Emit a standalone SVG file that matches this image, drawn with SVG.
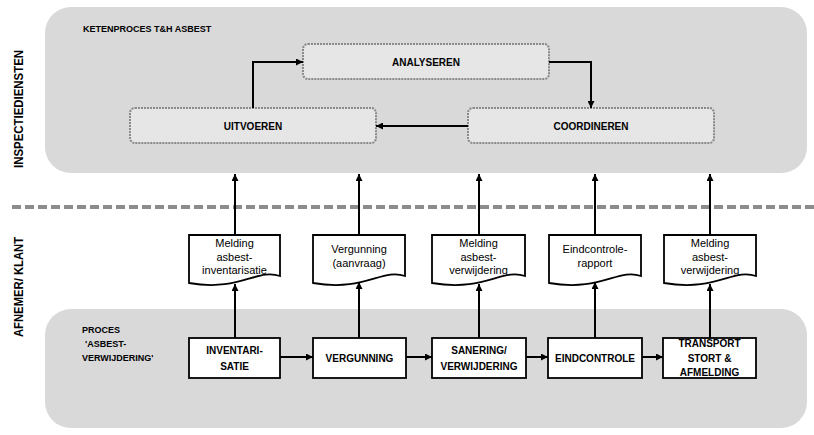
<svg xmlns="http://www.w3.org/2000/svg" width="814" height="435" viewBox="0 0 814 435">
<defs>
<marker id="ah" viewBox="0 0 10 10" refX="10" refY="5" markerWidth="7" markerHeight="7" markerUnits="userSpaceOnUse" orient="auto">
<path d="M0,0 L10,5 L0,10 z" fill="#000"/>
</marker>
<style>
.panel{fill:#d9d9d9;}
.act{fill:#e6e6e6;stroke:#8a8a8a;stroke-width:2;stroke-dasharray:2,1;}
.box{fill:#fff;stroke:#000;stroke-width:1.8;}
.doc{fill:#fff;stroke:#000;stroke-width:1.8;}
.con{fill:none;stroke:#000;stroke-width:2;marker-end:url(#ah);}
.b{font-family:"Liberation Sans",Arial,sans-serif;font-weight:bold;font-size:10px;fill:#000;text-anchor:middle;}
.d{font-family:"Liberation Sans",Arial,sans-serif;font-size:11px;fill:#000;text-anchor:middle;}
.lab{font-family:"Liberation Sans",Arial,sans-serif;font-weight:bold;font-size:9px;fill:#000;}
.v{font-family:"Liberation Sans",Arial,sans-serif;font-weight:bold;font-size:13px;fill:#000;text-anchor:middle;}
</style>
</defs>
<rect width="814" height="435" fill="#fff"/>

<g id="panel-top">
<rect class="panel" x="45" y="7" width="762" height="166" rx="26"/>
<text class="lab" x="83" y="32">KETENPROCES T&amp;H ASBEST</text>
</g>
<g id="panel-bottom">
<rect class="panel" x="45" y="309" width="762" height="119" rx="26"/>
<text class="lab" x="82" y="333">PROCES</text>
<text class="lab" x="85" y="347">'ASBEST-</text>
<text class="lab" x="82" y="361">VERWIJDERING'</text>
</g>

<g id="lane-labels">
<text class="v" transform="translate(23,109) rotate(-90)" textLength="118" lengthAdjust="spacingAndGlyphs">INSPECTIEDIENSTEN</text>
<text class="v" transform="translate(23,287) rotate(-90)" textLength="100" lengthAdjust="spacingAndGlyphs">AFNEMER/ KLANT</text>
</g>

<g id="divider">
<line x1="12" y1="207" x2="814" y2="207" stroke="#8c8c8c" stroke-width="4" stroke-dasharray="9,4"/>
</g>

<g id="analyseren">
<rect class="act" x="303" y="44" width="246" height="35" rx="5"/>
<text class="b" x="426" y="65.5">ANALYSEREN</text>
</g>
<g id="uitvoeren">
<rect class="act" x="130" y="108" width="246" height="35" rx="5"/>
<text class="b" x="253" y="129.5">UITVOEREN</text>
</g>
<g id="coordineren">
<rect class="act" x="468" y="108" width="246" height="35" rx="5"/>
<text class="b" x="591" y="129.5">COORDINEREN</text>
</g>

<g id="doc1">
<path class="doc" d="M189,235 H280 V276 C257,268 240,292 189,283 Z"/>
<text class="d" x="234.5" y="247">Melding</text>
<text class="d" x="234.5" y="260.5">asbest-</text>
<text class="d" x="234.5" y="274">inventarisatie</text>
</g>
<g id="doc2">
<path class="doc" d="M313,235 H405 V276 C382,268 365,292 313,283 Z"/>
<text class="d" x="359" y="253">Vergunning</text>
<text class="d" x="359" y="267">(aanvraag)</text>
</g>
<g id="doc3">
<path class="doc" d="M432,235 H525 V276 C502,268 485,292 432,283 Z"/>
<text class="d" x="478.5" y="247">Melding</text>
<text class="d" x="478.5" y="260.5">asbest-</text>
<text class="d" x="478.5" y="274">verwijdering</text>
</g>
<g id="doc4">
<path class="doc" d="M549,235 H641 V276 C618,268 601,292 549,283 Z"/>
<text class="d" x="595" y="253">Eindcontrole-</text>
<text class="d" x="595" y="267">rapport</text>
</g>
<g id="doc5">
<path class="doc" d="M664,235 H756 V276 C733,268 716,292 664,283 Z"/>
<text class="d" x="710" y="247">Melding</text>
<text class="d" x="710" y="260.5">asbest-</text>
<text class="d" x="710" y="274">verwijdering</text>
</g>

<g id="inventarisatie">
<rect class="box" x="189" y="338" width="91" height="40"/>
<text class="b" x="234.5" y="354">INVENTARI-</text>
<text class="b" x="234.5" y="369.5">SATIE</text>
</g>
<g id="vergunning">
<rect class="box" x="313" y="338" width="93" height="40"/>
<text class="b" x="359.5" y="361.5">VERGUNNING</text>
</g>
<g id="sanering">
<rect class="box" x="432" y="338" width="94" height="40"/>
<text class="b" x="479" y="354">SANERING/</text>
<text class="b" x="479" y="369.5">VERWIJDERING</text>
</g>
<g id="eindcontrole">
<rect class="box" x="548" y="338" width="94" height="40"/>
<text class="b" x="595" y="361.5">EINDCONTROLE</text>
</g>
<g id="transport">
<rect class="box" x="663" y="338" width="93" height="40"/>
<text class="b" x="709.5" y="347">TRANSPORT</text>
<text class="b" x="709.5" y="361.5">STORT &amp;</text>
<text class="b" x="709.5" y="376">AFMELDING</text>
</g>

<g id="connectors">
<path class="con" d="M253,108 V62 H303"/>
<path class="con" d="M549,62 H591 V108"/>
<path class="con" d="M468,126 H376"/>
<path class="con" d="M235,235 V174"/>
<path class="con" d="M359,235 V174"/>
<path class="con" d="M479,235 V174"/>
<path class="con" d="M595,235 V174"/>
<path class="con" d="M710,235 V174"/>
<path class="con" d="M235,338 V284"/>
<path class="con" d="M359,338 V282"/>
<path class="con" d="M479,338 V284"/>
<path class="con" d="M595,338 V282"/>
<path class="con" d="M710,338 V284"/>
<path class="con" d="M280,357 H313"/>
<path class="con" d="M406,357 H432"/>
<path class="con" d="M526,357 H548"/>
<path class="con" d="M642,357 H663"/>
</g>
</svg>
